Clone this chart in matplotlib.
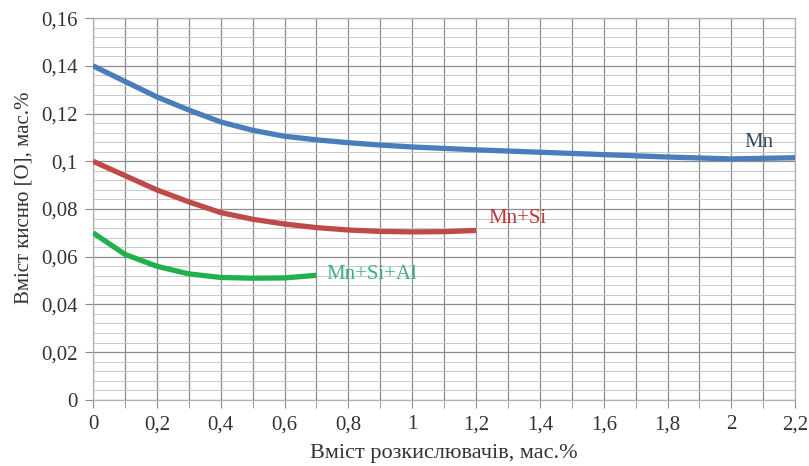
import matplotlib.pyplot as plt
import numpy as np
from matplotlib.ticker import MultipleLocator, FuncFormatter

# data
x_mn = [0, 0.1, 0.2, 0.3, 0.4, 0.5, 0.6, 0.7, 0.8, 0.9, 1.0, 1.2, 1.4, 1.6, 1.8, 2.0, 2.2]
y_mn = [0.140, 0.1335, 0.127, 0.1215, 0.1165, 0.113, 0.1105, 0.109, 0.1078, 0.1068,
        0.106, 0.1048, 0.1038, 0.1028, 0.1018, 0.101, 0.1015]

x_mnsi = [0, 0.1, 0.2, 0.3, 0.4, 0.5, 0.6, 0.7, 0.8, 0.9, 1.0, 1.1, 1.2]
y_mnsi = [0.100, 0.094, 0.088, 0.083, 0.0785, 0.0757, 0.0737, 0.0722, 0.0712, 0.0706,
          0.0704, 0.0705, 0.0710]

x_mnsial = [0, 0.1, 0.2, 0.3, 0.4, 0.5, 0.6, 0.7]
y_mnsial = [0.070, 0.061, 0.056, 0.0528, 0.0513, 0.0510, 0.0511, 0.0522]

series_names = ["Mn", "Mn+Si", "Mn+Si+Al"]
line_colors = ["#4A7EBB", "#BE4B48", "#22B04C"]
label_colors = ["#3a4a5a", "#B83A3A", "#3DAF86"]

plt.rcParams['font.family'] = ['Liberation Serif', 'DejaVu Serif']

fig = plt.figure(figsize=(8.09, 4.66), dpi=100)
ax = fig.add_axes([0.115, 0.142, 0.868, 0.819])

for xs, ys, c in zip([x_mn, x_mnsi, x_mnsial], [y_mn, y_mnsi, y_mnsial], line_colors):
    ax.plot(xs, ys, color=c, lw=3.8, solid_capstyle='butt', solid_joinstyle='round', zorder=3)

ax.text(2.04, 0.1038, series_names[0], color=label_colors[0], fontsize=15, ha='left', va='bottom')
ax.text(1.24, 0.0762, series_names[1], color=label_colors[1], fontsize=15, ha='left', va='center')
ax.text(0.73, 0.0524, series_names[2], color=label_colors[2], fontsize=15, ha='left', va='center')

ax.set_xlim(0, 2.2)
ax.set_ylim(0, 0.16)
ax.xaxis.set_major_locator(MultipleLocator(0.2))
ax.xaxis.set_minor_locator(MultipleLocator(0.1))
ax.yaxis.set_major_locator(MultipleLocator(0.02))
ax.yaxis.set_minor_locator(MultipleLocator(0.004))

def fmt(v, pos):
    s = ('%.2f' % v).rstrip('0').rstrip('.')
    return s.replace('.', ',')

ax.xaxis.set_major_formatter(FuncFormatter(fmt))
ax.yaxis.set_major_formatter(FuncFormatter(fmt))

ax.grid(which='major', axis='both', color='#8c8c8c', lw=0.9)
ax.grid(which='minor', axis='x', color='#8c8c8c', lw=0.9)
ax.grid(which='minor', axis='y', color='#c8c8c8', lw=0.7)
ax.set_axisbelow(True)

ax.tick_params(which='both', direction='out', color='#8c8c8c', labelsize=15, labelcolor='#333333')
ax.tick_params(axis='x', which='both', length=6, pad=5)
ax.tick_params(axis='y', which='major', length=6, pad=5)
ax.tick_params(axis='y', which='minor', length=0)

for sp in ax.spines.values():
    sp.set_color('#b0b0b0')
    sp.set_linewidth(0.9)

ax.set_xlabel("Вміст розкислювачів, мас.%", fontsize=16, color='#333333', labelpad=7)
ax.set_ylabel("Вміст кисню [O], мас.%", fontsize=15, color='#333333')
ax.yaxis.set_label_coords(-0.085, 0.53)

fig.savefig("out.png", dpi=100)
